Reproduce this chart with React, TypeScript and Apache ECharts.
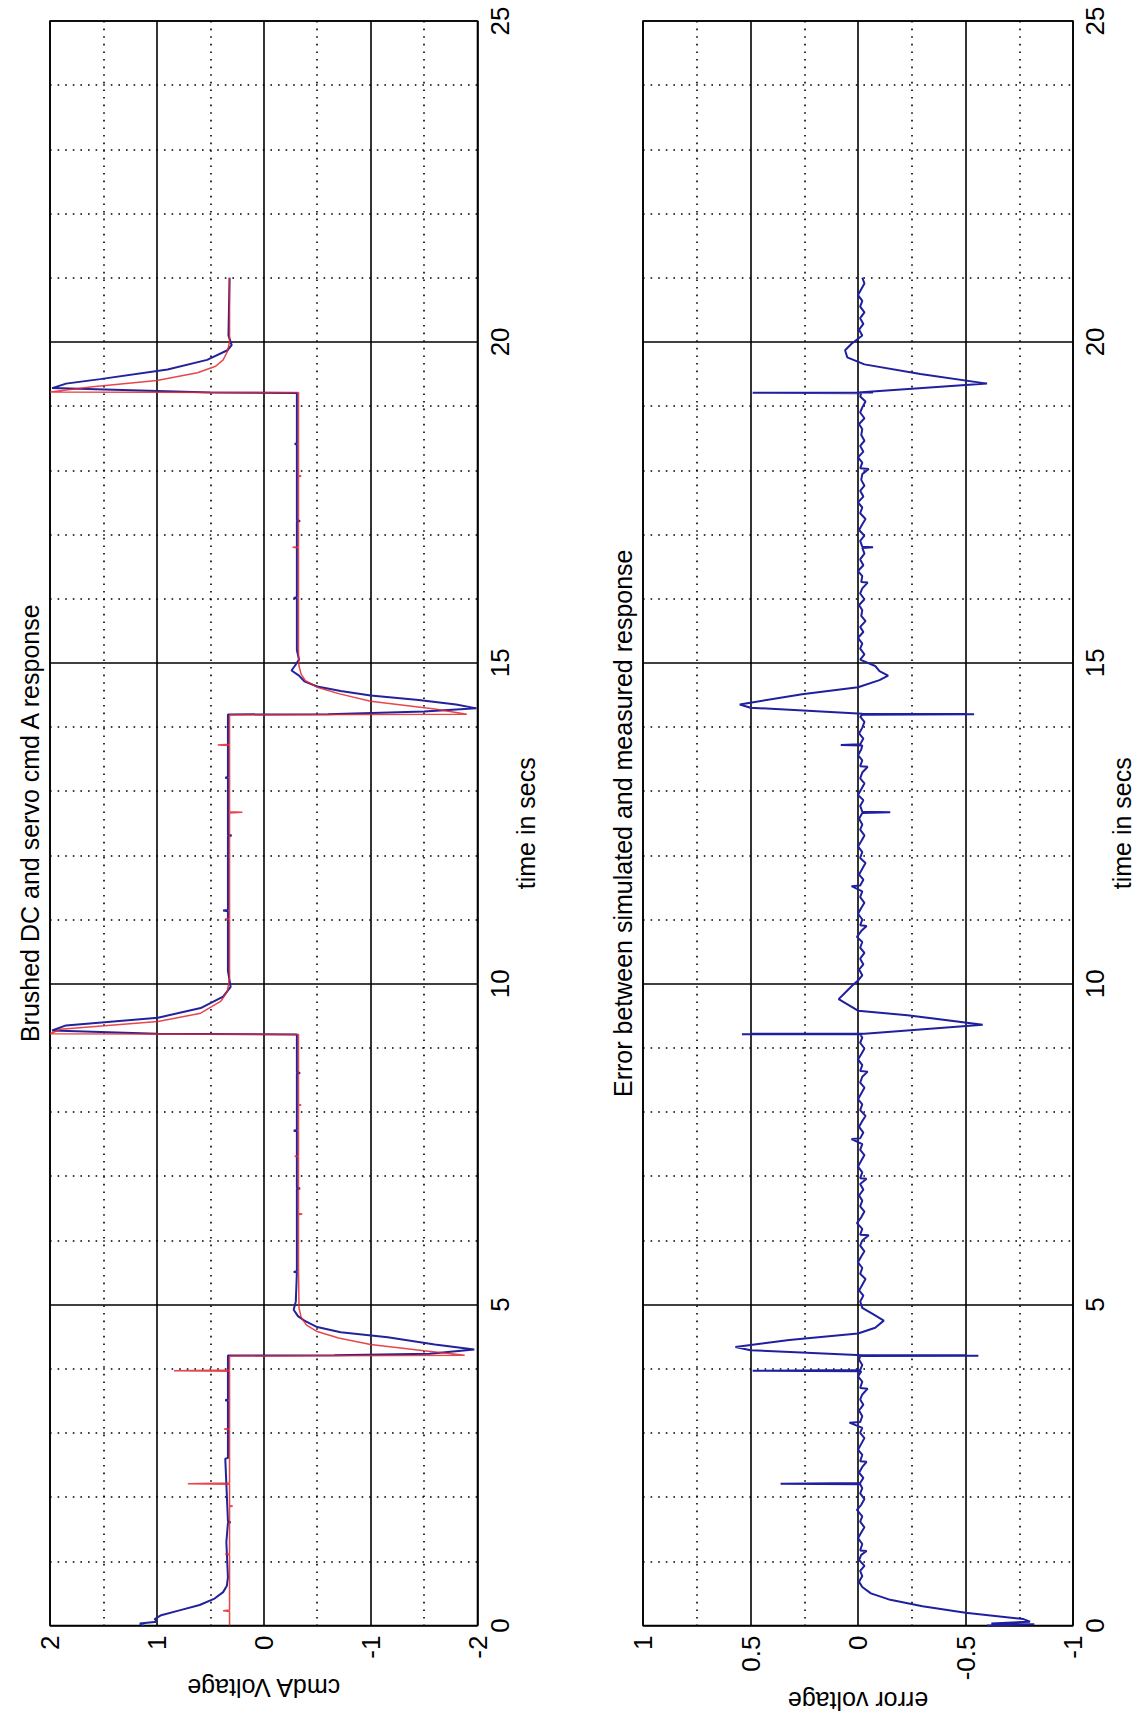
import React, { useEffect, useRef } from "react";
import * as echarts from "echarts";

// ---- Data: [time (s), voltage] ----
// Upper plot: simulated response (red)
const simulatedResponse: [number, number][] = [
  [0, 0.32], [0.22, 0.32], [0.23, 0.38], [0.24, 0.32],
  [1.1, 0.32], [1.11, 0.36], [1.12, 0.32],
  [1.85, 0.32], [1.86, 0.29], [1.87, 0.32],
  [2.2, 0.32], [2.21, 0.71], [2.22, 0.32],
  [3.05, 0.32], [3.06, 0.37], [3.07, 0.32],
  [3.96, 0.32], [3.97, 0.84], [3.98, 0.32],
  [4.2, 0.32], [4.21, -1.88], [4.28, -1.5], [4.38, -1.0], [4.48, -0.7], [4.58, -0.5],
  [4.68, -0.4], [4.8, -0.35], [4.95, -0.33], [5.6, -0.325],
  [6.4, -0.325], [6.41, -0.36], [6.42, -0.325],
  [7.3, -0.325], [7.31, -0.29], [7.32, -0.325],
  [8.1, -0.325], [8.11, -0.35], [8.12, -0.325],
  [9.21, -0.325], [9.22, 2.0], [9.29, 1.9], [9.41, 0.99], [9.54, 0.59], [9.73, 0.4],
  [9.88, 0.34], [10.1, 0.32],
  [11.0, 0.32], [11.01, 0.36], [11.02, 0.32],
  [12.66, 0.32], [12.67, 0.2], [12.68, 0.32],
  [13.71, 0.32], [13.72, 0.43], [13.73, 0.32],
  [14.19, 0.32], [14.2, -1.9], [14.28, -1.6], [14.4, -1.0], [14.52, -0.7], [14.62, -0.5],
  [14.72, -0.39], [14.82, -0.35], [14.95, -0.33], [15.1, -0.325],
  [16.79, -0.325], [16.8, -0.27], [16.81, -0.325],
  [17.9, -0.325], [17.91, -0.35], [17.92, -0.325],
  [19.21, -0.325], [19.22, 2.0], [19.3, 1.6], [19.4, 1.0], [19.52, 0.62], [19.62, 0.45],
  [19.72, 0.38], [19.85, 0.34], [20.0, 0.32], [21.0, 0.32],
];

// Upper plot: measured response (blue)
const measuredResponse: [number, number][] = [
  [0, 1.12], [0.03, 1.16], [0.06, 1.0], [0.1, 1.02], [0.16, 0.96], [0.24, 0.78],
  [0.32, 0.6], [0.42, 0.46], [0.52, 0.38], [0.62, 0.345], [0.75, 0.335],
  [1.3, 0.35], [1.6, 0.335], [1.61, 0.31], [1.62, 0.335],
  [2.6, 0.36], [2.61, 0.335], [3.5, 0.335], [3.51, 0.36], [3.52, 0.335],
  [4.205, 0.335], [4.21, -0.66], [4.235, -1.55], [4.3, -1.97], [4.38, -1.6], [4.49, -1.16],
  [4.57, -0.72], [4.65, -0.5], [4.75, -0.38], [4.82, -0.32], [4.92, -0.28], [5.05, -0.3],
  [5.5, -0.31], [5.51, -0.28], [5.52, -0.31],
  [6.8, -0.31], [6.81, -0.34], [6.82, -0.31],
  [7.7, -0.31], [7.71, -0.28], [7.72, -0.31],
  [8.6, -0.31], [8.61, -0.34], [8.62, -0.31],
  [9.21, -0.31], [9.22, 1.0], [9.27, 1.98], [9.35, 1.85], [9.47, 0.99], [9.62, 0.59],
  [9.8, 0.38], [9.95, 0.31], [10.2, 0.335],
  [11.13, 0.335], [11.14, 0.38], [11.15, 0.335],
  [12.3, 0.335], [12.31, 0.3], [12.32, 0.335],
  [13.2, 0.335], [13.21, 0.36], [13.22, 0.335],
  [14.195, 0.335], [14.2, -0.6], [14.24, -1.5], [14.29, -1.99], [14.35, -1.8], [14.42, -1.45],
  [14.49, -1.0], [14.56, -0.72], [14.63, -0.5], [14.71, -0.38], [14.8, -0.33], [14.88, -0.26],
  [14.95, -0.29], [15.05, -0.33], [15.2, -0.31],
  [16.0, -0.31], [16.01, -0.28], [16.02, -0.31],
  [17.2, -0.31], [17.21, -0.34], [17.22, -0.31],
  [18.4, -0.31], [18.41, -0.29], [18.42, -0.31],
  [19.205, -0.31], [19.21, 0.5], [19.28, 1.98], [19.35, 1.85], [19.42, 1.53], [19.57, 0.9],
  [19.72, 0.53], [19.87, 0.34], [19.95, 0.3], [20.1, 0.33], [21.0, 0.32],
];

// Lower plot: error between simulated and measured response
const errorResponse: [number, number][] = [
  [0, -0.6], [0.02, -0.82], [0.03, -0.62], [0.06, -0.8], [0.1, -0.77], [0.2, -0.5],
  [0.3, -0.3], [0.4, -0.15], [0.5, -0.06],
  [0.6, -0.02], [0.68, -0.005], [0.77, -0.02], [0.85, -0.01], [0.93, -0.03], [1.02, -0.005],
  [1.1, -0.015], [1.16, -0.04], [1.17, -0.01], [1.27, -0.02], [1.36, 0.0], [1.45, -0.015],
  [1.53, -0.03], [1.62, -0.01], [1.7, -0.02], [1.8, 0.005], [1.88, -0.015], [1.97, -0.03],
  [2.06, -0.01], [2.14, -0.02], [2.2, -0.01], [2.21, 0.36], [2.22, -0.01], [2.3, -0.025],
  [2.38, -0.005], [2.47, -0.02], [2.55, -0.04], [2.56, -0.01], [2.66, -0.02], [2.74, 0.0],
  [2.83, -0.015], [2.92, -0.03], [3.0, -0.01], [3.08, -0.02], [3.16, 0.04], [3.17, -0.01],
  [3.26, -0.02], [3.35, -0.005], [3.44, -0.025], [3.52, -0.01], [3.6, -0.02], [3.69, -0.045],
  [3.7, -0.01], [3.8, -0.02], [3.88, 0.0], [3.96, -0.015], [3.97, 0.49], [3.98, -0.01],
  [4.06, -0.02], [4.14, -0.005], [4.2, -0.01],
  [4.203, -0.56], [4.206, -0.03], [4.209, -0.5], [4.212, -0.02], [4.29, 0.5], [4.34, 0.57],
  [4.45, 0.32], [4.55, 0.0], [4.64, -0.08], [4.75, -0.12], [4.85, -0.07], [4.95, -0.02],
  [5.05, -0.01], [5.14, -0.025], [5.22, -0.005], [5.31, -0.02], [5.4, -0.035], [5.48, -0.01],
  [5.57, -0.02], [5.66, 0.0], [5.75, -0.015], [5.83, -0.03], [5.92, -0.01], [6.0, -0.02],
  [6.08, -0.05], [6.09, -0.01], [6.18, -0.02], [6.27, 0.005], [6.36, -0.015], [6.45, -0.03],
  [6.53, -0.01], [6.62, -0.02], [6.7, -0.005], [6.79, -0.025], [6.88, -0.01], [6.96, -0.04],
  [6.97, -0.01], [7.06, -0.02], [7.15, 0.0], [7.24, -0.015], [7.33, -0.03], [7.41, -0.01],
  [7.5, -0.02], [7.58, 0.03], [7.59, -0.01], [7.68, -0.025], [7.77, -0.005], [7.86, -0.02],
  [7.94, -0.035], [8.03, -0.01], [8.12, -0.02], [8.2, 0.0], [8.29, -0.015], [8.38, -0.03],
  [8.46, -0.01], [8.55, -0.02], [8.63, -0.045], [8.64, -0.01], [8.73, -0.02], [8.82, 0.0],
  [8.9, -0.015], [8.99, -0.03], [9.08, -0.01], [9.16, -0.02], [9.21, -0.01],
  [9.213, 0.54], [9.216, -0.02], [9.219, 0.5], [9.222, -0.03], [9.36, -0.58], [9.51, -0.23],
  [9.58, 0.0], [9.76, 0.09], [9.86, 0.06], [9.96, 0.03],
  [10.05, 0.0], [10.13, -0.02], [10.22, -0.005], [10.3, -0.025], [10.39, -0.01], [10.48, -0.03],
  [10.56, -0.01], [10.65, -0.02], [10.73, 0.005], [10.82, -0.015], [10.9, -0.04], [10.91, -0.01],
  [11.0, -0.02], [11.09, 0.0], [11.18, -0.015], [11.26, -0.03], [11.35, -0.01], [11.44, -0.02],
  [11.52, 0.03], [11.53, -0.01], [11.62, -0.025], [11.7, -0.005], [11.79, -0.02], [11.88, -0.035],
  [11.96, -0.01], [12.05, -0.02], [12.14, 0.0], [12.22, -0.015], [12.31, -0.03], [12.4, -0.01],
  [12.48, -0.02], [12.57, -0.005], [12.66, -0.02], [12.67, -0.15], [12.68, -0.02], [12.77, -0.01],
  [12.86, -0.025], [12.94, 0.0], [13.03, -0.015], [13.12, -0.03], [13.2, -0.01], [13.29, -0.02],
  [13.38, -0.045], [13.39, -0.01], [13.48, -0.02], [13.56, 0.0], [13.65, -0.015], [13.71, -0.02],
  [13.72, 0.08], [13.73, -0.01], [13.82, -0.025], [13.9, -0.005], [13.99, -0.02], [14.08, -0.03],
  [14.16, -0.01], [14.19, -0.02],
  [14.198, -0.54], [14.201, -0.03], [14.204, -0.5], [14.207, -0.02], [14.3, 0.5], [14.35, 0.55],
  [14.51, 0.26], [14.62, 0.0], [14.73, -0.1], [14.8, -0.14], [14.87, -0.1], [14.95, -0.08],
  [15.05, -0.01], [15.13, -0.03], [15.22, -0.01], [15.3, -0.02], [15.39, 0.0], [15.48, -0.025],
  [15.56, -0.01], [15.65, -0.035], [15.73, -0.015], [15.82, -0.02], [15.9, -0.005], [15.99, -0.03],
  [16.08, -0.01], [16.16, -0.02], [16.25, -0.045], [16.26, -0.015], [16.35, -0.02], [16.43, 0.0],
  [16.52, -0.025], [16.61, -0.01], [16.7, -0.03], [16.79, -0.02], [16.8, -0.07], [16.81, -0.02],
  [16.9, -0.01], [16.98, -0.03], [17.07, -0.005], [17.16, -0.02], [17.24, -0.035], [17.33, -0.01],
  [17.42, -0.02], [17.5, 0.0], [17.59, -0.025], [17.68, -0.01], [17.76, -0.03], [17.85, -0.015],
  [17.94, -0.02], [18.02, -0.05], [18.03, -0.01], [18.12, -0.02], [18.2, 0.0], [18.29, -0.025],
  [18.38, -0.01], [18.46, -0.03], [18.55, -0.015], [18.64, -0.02], [18.72, -0.005], [18.81, -0.03],
  [18.9, -0.01], [18.98, -0.02], [19.07, -0.035], [19.15, -0.01], [19.2, -0.015],
  [19.207, 0.49], [19.21, -0.07], [19.213, 0.0], [19.35, -0.6], [19.5, -0.29], [19.65, -0.03],
  [19.76, 0.05], [19.87, 0.06], [19.97, 0.03],
  [20.1, -0.02], [20.19, -0.005], [20.28, -0.025], [20.37, -0.01], [20.46, -0.03], [20.55, -0.01],
  [20.64, -0.02], [20.73, 0.0], [20.82, -0.015], [20.91, -0.03], [21.0, -0.02],
];

// Axis ranges and labels
const timeRange = { min: 0, max: 25, interval: 5 };
const voltRange = { min: -2, max: 2, interval: 1 };
const errRange = { min: -1, max: 1, interval: 0.5 };
const titles = ["Brushed DC and servo cmd A response", "Error between simulated and measured response"];
const timeLabel = "time in secs";
const valueLabels = ["cmdA Voltage", "error voltage"];

const FONT = "'Liberation Sans', Arial, Helvetica, sans-serif";
const dotted = { color: "#000", width: 1.6, type: [1.6, 6] as any };
const solid = { color: "#000", width: 1.6 };

function valueAxis(grid: number, range: any, name: string, nameGap: number) {
  return {
    gridIndex: grid,
    type: "value",
    min: range.min,
    max: range.max,
    interval: range.interval,
    inverse: true,
    position: "bottom",
    axisLine: { show: false },
    axisTick: { show: false },
    axisLabel: { rotate: 90, fontSize: 26, color: "#000", margin: 10, fontFamily: FONT },
    splitLine: { show: true, lineStyle: solid },
    minorTick: { show: false, splitNumber: 2 },
    minorSplitLine: { show: true, lineStyle: dotted },
    name,
    nameLocation: "middle",
    nameRotate: 180,
    nameGap,
    nameTextStyle: { fontSize: 25, color: "#000", fontFamily: FONT },
  };
}

function timeAxis(grid: number) {
  return {
    gridIndex: grid,
    type: "value",
    min: timeRange.min,
    max: timeRange.max,
    interval: timeRange.interval,
    position: "right",
    axisLine: { show: false },
    axisTick: { show: false },
    axisLabel: { rotate: 90, fontSize: 26, color: "#000", margin: 9, fontFamily: FONT },
    splitLine: { show: true, lineStyle: solid },
    minorTick: { show: false, splitNumber: 5 },
    minorSplitLine: { show: true, lineStyle: dotted },
    name: timeLabel,
    nameLocation: "middle",
    nameRotate: 90,
    nameGap: 36,
    nameTextStyle: { fontSize: 25, color: "#000", fontFamily: FONT },
  };
}

function titleAxis(grid: number, title: string) {
  return {
    gridIndex: grid,
    type: "value",
    min: timeRange.min,
    max: timeRange.max,
    position: "left",
    axisLine: { show: false },
    axisTick: { show: false },
    axisLabel: { show: false },
    splitLine: { show: false },
    name: title,
    nameLocation: "middle",
    nameRotate: 90,
    nameGap: 8,
    nameTextStyle: { fontSize: 25, color: "#000", fontFamily: FONT },
  };
}

export default function App() {
  const ref = useRef<HTMLDivElement>(null);
  useEffect(() => {
    if (!ref.current) return;
    const chart = echarts.init(ref.current, undefined, { renderer: "svg" });
    const toXY = (d: [number, number][]) => d.map(([t, v]) => [v, t]);
    const gridBase = {
      top: 21, height: 1604.5, show: true, borderColor: "#000", borderWidth: 1.6,
      backgroundColor: "#fff", containLabel: false, outerBoundsMode: "none",
    };
    const option: any = {
      animation: false,
      backgroundColor: "#fff",
      textStyle: { fontFamily: FONT },
      grid: [
        { ...gridBase, left: 50, width: 427.5 },
        { ...gridBase, left: 643, width: 430 },
      ],
      xAxis: [
        valueAxis(0, voltRange, valueLabels[0], 50),
        valueAxis(1, errRange, valueLabels[1], 58),
      ],
      yAxis: [timeAxis(0), titleAxis(0, titles[0]), timeAxis(1), titleAxis(1, titles[1])],
      series: [
        {
          type: "line", xAxisIndex: 0, yAxisIndex: 0, data: toXY(measuredResponse),
          showSymbol: false, symbol: "none", lineStyle: { color: "#22229c", width: 2 }, z: 3,
        },
        {
          type: "line", xAxisIndex: 0, yAxisIndex: 0, data: toXY(simulatedResponse),
          showSymbol: false, symbol: "none", lineStyle: { color: "#e3262c", width: 1.5, opacity: 0.85 }, z: 4,
        },
        {
          type: "line", xAxisIndex: 1, yAxisIndex: 2, data: toXY(errorResponse),
          showSymbol: false, symbol: "none", lineStyle: { color: "#1f1fa0", width: 2 }, z: 3,
        },
      ],
    };
    chart.setOption(option);
    return () => chart.dispose();
  }, []);
  return (
    <div
      ref={ref}
      style={{ position: "absolute", left: 0, top: 0, width: 1140, height: 1716 }}
    />
  );
}
